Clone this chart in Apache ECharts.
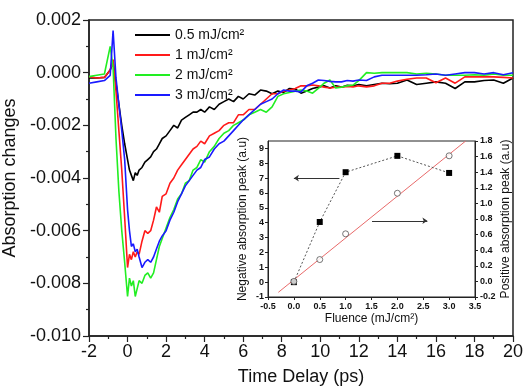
<!DOCTYPE html>
<html>
    <head>
        <meta charset="UTF-8">
        <script src="https://cdn.jsdelivr.net/npm/echarts@6/dist/echarts.min.js"></script>
        <style>
            html, body { margin: 0; padding: 0; background: #fff; }
        </style>
    </head>

    <body>
        <div id="main" style="width:525px;height:387px"></div>
        <script type="text/javascript">
            // time delay (ps), shared by the four transient curves
            var delay = [
                -2.0, -1.6, -1.2, -0.9, -0.75, -0.6, -0.45, -0.3, -0.15, 0.0,
                0.1, 0.2, 0.3, 0.4, 0.5, 0.6, 0.75, 0.9, 1.05, 1.2,
                1.35, 1.5, 1.65, 1.8, 2.0, 2.2, 2.4, 2.6, 2.8, 3.0,
                3.2, 3.4, 3.6, 3.8, 4.0, 4.25, 4.5, 4.75, 5.0, 5.25,
                5.5, 5.75, 6.0, 6.3, 6.6, 6.9, 7.2, 7.5, 7.8, 8.1,
                8.4, 8.7, 9.0, 9.3, 9.6, 9.9, 10.2, 10.5, 10.8, 11.1,
                11.4, 11.7, 12.0, 12.4, 12.8, 13.2, 13.6, 14.0, 14.5, 15.0,
                15.5, 16.0, 16.5, 17.0, 17.5, 18.0, 18.5, 19.0, 19.5, 20.0
            ];

            var fluence05 = [
                -0.0002, -0.0002, -0.00018, 0.0001, 0.0004, -0.0004, -0.0012, -0.002, -0.0027, -0.0033,
                -0.0037, -0.0039, -0.0041, -0.0038, -0.0039, -0.0037, -0.0036, -0.0034, -0.0033, -0.0032,
                -0.003, -0.0029, -0.0027, -0.0025, -0.0024, -0.0022, -0.002, -0.0021, -0.0018, -0.0017,
                -0.0016, -0.0015, -0.0015, -0.0014, -0.0015, -0.0013, -0.0014, -0.0012, -0.0011, -0.001,
                -0.0011, -0.0009, -0.001, -0.0008, -0.00085, -0.00066, -0.0007, -0.0008, -0.0007, -0.00075,
                -0.0006, -0.00062, -0.00078, -0.0007, -0.0006, -0.00055, -0.0005, -0.00058, -0.0005, -0.00055,
                -0.00048, -0.0005, -0.00045, -0.0005, -0.00045, -0.0004, -0.00042, -0.0004, -0.00028, -0.00045,
                -0.0004, -0.00035, -0.0004, -0.0006, -0.00035, -0.00035, -0.0003, -0.00028, -0.0004, -0.0002
            ];

            var fluence1 = [
                -0.00015, -0.0002, -0.00018, 0.0001, 0.0005, -0.0007, -0.0022, -0.0037, -0.0055, -0.0074,
                -0.0069, -0.0071, -0.0068, -0.007, -0.0068, -0.0069, -0.0064, -0.006, -0.0061, -0.006,
                -0.0056, -0.0051, -0.0053, -0.0047, -0.0046, -0.0042, -0.004, -0.0037, -0.0035, -0.0033,
                -0.0031, -0.0029, -0.0028, -0.0026, -0.0027, -0.0024, -0.0023, -0.0022, -0.002, -0.0019,
                -0.0019, -0.0016, -0.0016, -0.0014, -0.0014, -0.0012, -0.001, -0.0008, -0.0008, -0.0007,
                -0.00066, -0.0006, -0.0005, -0.0005, -0.00047, -0.0005, -0.00055, -0.00058, -0.00055, -0.00055,
                -0.00052, -0.00054, -0.0005, -0.00054, -0.0005, -0.0004, -0.0004, -0.00032, -0.00025, -0.0002,
                -0.0002, -0.00038, -0.0002, -0.0004, -0.00016, -0.00016, -0.00015, -0.00016, -0.00018, -0.0002
            ];

            var fluence2 = [
                -0.00015, -0.0001, -0.00005, 0.001, 0.0002, -0.0025, -0.0045, -0.006, -0.0072, -0.0085,
                -0.0078, -0.0081, -0.0079, -0.0085, -0.0082, -0.0079, -0.008, -0.0077, -0.0076, -0.0078,
                -0.0076, -0.0071, -0.0066, -0.0063, -0.0059, -0.0055, -0.0052, -0.0048, -0.0046, -0.0042,
                -0.0041, -0.0037, -0.0036, -0.0033, -0.0034, -0.003, -0.0028, -0.0025, -0.0023, -0.0022,
                -0.002, -0.0019, -0.0018, -0.0016, -0.0015, -0.0014, -0.0015, -0.0013, -0.0009, -0.0008,
                -0.00075, -0.0007, -0.00066, -0.0007, -0.00078, -0.0006, -0.0004, -0.00028, -0.00058, -0.00055,
                -0.0005, -0.00047, -0.0003, 0.0, -0.00002, 0.0, 0.0, 0.0, 0.0, -0.00005,
                -0.00002, -0.00005, -0.0001, -0.0001, -0.0001, -0.00008, -0.0001, -0.00005, -0.0001, -0.0001
            ];

            var fluence3 = [
                -0.0004, -0.00035, -0.0003, -0.0001, 0.0016, -0.0002, -0.0012, -0.0022, -0.0033, -0.0052,
                -0.006, -0.0066, -0.0065, -0.0068, -0.0067, -0.007, -0.0074, -0.0072, -0.0071, -0.0072,
                -0.007, -0.0067, -0.0064, -0.0062, -0.006, -0.0056, -0.0053, -0.0049, -0.0046, -0.0043,
                -0.0041, -0.0039, -0.0037, -0.0036, -0.0033, -0.0032, -0.0029, -0.0027, -0.0026, -0.0024,
                -0.0022, -0.002, -0.0018, -0.0016, -0.0014, -0.0012, -0.0011, -0.001, -0.0008, -0.00066,
                -0.0007, -0.0007, -0.00073, -0.0005, -0.0004, -0.00028, -0.0003, -0.00033, -0.00035, -0.00035,
                -0.0003, -0.00032, -0.00028, -0.0003, -0.00016, -0.0001, -0.0001, -0.0001, -0.0001, -0.0001,
                -0.00008, -0.00005, -0.0001, -0.00005, 0.0, 0.0, -0.00005, 0.0, -0.00008, 0.0
            ];

            var seriesNames = ['0.5 mJ/cm²', '1 mJ/cm²', '2 mJ/cm²', '3 mJ/cm²'];

            // inset: peak values vs fluence
            var insetFluence = [0, 0.5, 1, 2, 3];
            var negativePeak = [0, 4.05, 7.4, 8.5, 7.35];
            var positivePeak = [0, 0.28, 0.61, 1.13, 1.61];
            var fitFluence = [-0.3, 3.32];
            var fitPositive = [-0.14, 1.8];

            function pairs(xs, ys) {
                var out = [];
                for (var i = 0; i < xs.length; i++) out.push([xs[i], ys[i]]);
                return out;
            }

            var chartDom = document.getElementById('main');
            var myChart = echarts.init(chartDom, null, { renderer: 'canvas' });

            var fontFamily = '"Liberation Sans", Arial, sans-serif';
            var axisColor = '#222';

            var mainLine = function (name, ys, color) {
                return {
                    name: name,
                    type: 'line',
                    xAxisIndex: 0,
                    yAxisIndex: 0,
                    data: pairs(delay, ys),
                    symbol: 'none',
                    lineStyle: { color: color, width: 1.6 },
                    itemStyle: { color: color },
                    animation: false
                };
            };

            var option = {
                animation: false,
                textStyle: { fontFamily: fontFamily },
                legend: {
                    data: seriesNames,
                    orient: 'vertical',
                    left: 130,
                    top: 22,
                    icon: 'rect',
                    itemWidth: 35,
                    itemHeight: 2,
                    itemGap: 4,
                    textStyle: { fontSize: 14, lineHeight: 16, color: '#111', fontFamily: fontFamily }
                },
                grid: [
                    {
                        left: 89, right: 12, top: 20, bottom: 51,
                        outerBoundsMode: 'none',
                        show: true, borderColor: axisColor, borderWidth: 1.5,
                        backgroundColor: 'transparent'
                    },
                    {
                        left: 268, right: 50, top: 141, bottom: 90,
                        outerBoundsMode: 'none',
                        show: true, borderColor: axisColor, borderWidth: 1,
                        backgroundColor: '#fff'
                    }
                ],
                xAxis: [
                    {
                        type: 'value', gridIndex: 0,
                        min: -2, max: 20, interval: 2,
                        name: 'Time Delay (ps)', nameLocation: 'middle', nameGap: 32,
                        nameTextStyle: { fontSize: 18, color: '#111' },
                        axisLine: { show: true, onZero: false, lineStyle: { color: axisColor, width: 1.5 } },
                        axisTick: { inside: false, length: 6, lineStyle: { color: axisColor, width: 1.2 } },
                        minorTick: { show: true, splitNumber: 2, length: 3, lineStyle: { color: axisColor, width: 1.2 } },
                        axisLabel: { fontSize: 18, color: '#111', margin: 7 },
                        splitLine: { show: false }
                    },
                    {
                        type: 'value', gridIndex: 1,
                        min: -0.5, max: 3.5, interval: 0.5,
                        name: 'Fluence (mJ/cm²)', nameLocation: 'middle', nameGap: 16,
                        nameTextStyle: { fontSize: 12, color: '#111' },
                        axisLine: { show: true, onZero: false, lineStyle: { color: axisColor, width: 1 } },
                        axisTick: { inside: false, length: 3, lineStyle: { color: axisColor } },
                        axisLabel: {
                            fontSize: 9, fontWeight: 'bold', color: '#111', margin: 5,
                            formatter: function (v) { return v.toFixed(1); }
                        },
                        splitLine: { show: false }
                    }
                ],
                yAxis: [
                    {
                        type: 'value', gridIndex: 0,
                        min: -0.01, max: 0.002, interval: 0.002,
                        name: 'Absorption changes', nameLocation: 'middle', nameGap: 58, nameRotate: 90,
                        nameTextStyle: { fontSize: 18, color: '#111' },
                        axisLine: { show: true, onZero: false, lineStyle: { color: axisColor, width: 1.5 } },
                        axisTick: { inside: false, length: 6, lineStyle: { color: axisColor, width: 1.2 } },
                        minorTick: { show: true, splitNumber: 2, length: 3, lineStyle: { color: axisColor, width: 1.2 } },
                        axisLabel: {
                            fontSize: 18, color: '#111', margin: 8,
                            formatter: function (v) { return v.toFixed(3); }
                        },
                        splitLine: { show: false }
                    },
                    {
                        type: 'value', gridIndex: 1,
                        min: -1, max: 9.5, interval: 1,
                        name: 'Negative absorption peak (a.u)', nameLocation: 'middle', nameGap: 19, nameRotate: 90,
                        nameTextStyle: { fontSize: 12, color: '#111' },
                        axisLine: { show: true, onZero: false, lineStyle: { color: axisColor, width: 1 } },
                        axisTick: { inside: false, length: 3, lineStyle: { color: axisColor } },
                        axisLabel: { fontSize: 9, fontWeight: 'bold', color: '#111', margin: 4, showMaxLabel: false },
                        splitLine: { show: false }
                    },
                    {
                        type: 'value', gridIndex: 1, position: 'right',
                        min: -0.2, max: 1.8, interval: 0.2,
                        name: 'Positive absorption peak (a.u)', nameLocation: 'middle', nameGap: 20, nameRotate: 90,
                        nameTextStyle: { fontSize: 12, color: '#111' },
                        axisLine: { show: true, onZero: false, lineStyle: { color: axisColor, width: 1 } },
                        axisTick: { inside: false, length: 3, lineStyle: { color: axisColor } },
                        axisLabel: {
                            fontSize: 9, fontWeight: 'bold', color: '#111', margin: 5,
                            formatter: function (v) { return v.toFixed(1); }
                        },
                        splitLine: { show: false }
                    }
                ],
                series: [
                    mainLine(seriesNames[0], fluence05, '#000000'),
                    mainLine(seriesNames[1], fluence1, '#ff1a1a'),
                    mainLine(seriesNames[2], fluence2, '#22ee22'),
                    mainLine(seriesNames[3], fluence3, '#1a1aff'),
                    {
                        name: 'fit',
                        type: 'line',
                        xAxisIndex: 1, yAxisIndex: 2,
                        data: pairs(fitFluence, fitPositive),
                        symbol: 'none',
                        lineStyle: { color: '#e86a6a', width: 1 },
                        clip: true
                    },
                    {
                        name: 'negative',
                        type: 'line',
                        xAxisIndex: 1, yAxisIndex: 1,
                        data: pairs(insetFluence, negativePeak),
                        symbol: 'rect',
                        symbolSize: 6,
                        lineStyle: { color: '#555', width: 1, type: [2, 2] },
                        itemStyle: { color: '#000' }
                    },
                    {
                        name: 'positive',
                        type: 'scatter',
                        xAxisIndex: 1, yAxisIndex: 2,
                        data: pairs(insetFluence, positivePeak),
                        symbol: 'circle',
                        symbolSize: 6,
                        itemStyle: { color: '#fff', borderColor: '#555', borderWidth: 1 },
                        z: 5
                    },
                    {
                        name: 'arrows',
                        type: 'lines',
                        coordinateSystem: 'cartesian2d',
                        xAxisIndex: 1, yAxisIndex: 1,
                        symbol: ['none', 'arrow'],
                        symbolSize: 5,
                        lineStyle: { color: '#333', width: 1, opacity: 1 },
                        data: [
                            { coords: [[0.88, 7.0], [0.0, 7.0]] },
                            { coords: [[1.51, 4.13], [2.58, 4.13]] }
                        ]
                    }
                ]
            };

            option && myChart.setOption(option);
        </script>
    </body>
</html>
